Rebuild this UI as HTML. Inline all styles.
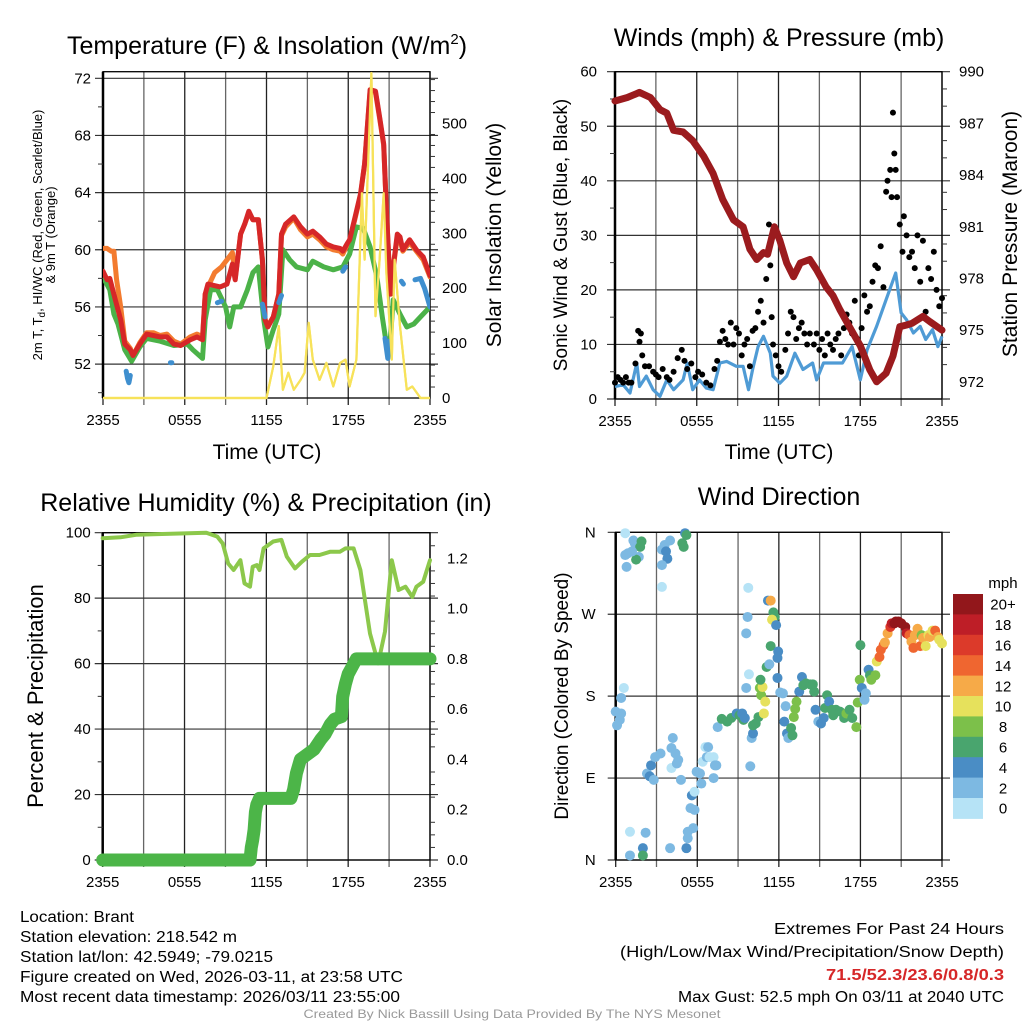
<!DOCTYPE html>
<html><head><meta charset="utf-8"><title>Mesonet Station Brant</title>
<style>
html,body{margin:0;padding:0;background:#fff;}
svg{display:block;font-family:"Liberation Sans",Arial,sans-serif;}
</style></head>
<body>
<svg id="fig" width="1024" height="1024" viewBox="0 0 1024 1024">
<rect x="0" y="0" width="1024" height="1024" fill="#fff"/>
<g id="p1"></g>
<g id="p2"></g>
<g id="p3"></g>
<g id="p4"></g>

<text x="267" y="54" font-size="25" text-anchor="middle">Temperature (F) &amp; Insolation (W/m<tspan font-size="15" dy="-10">2</tspan><tspan dy="10">)</tspan></text>
<text x="779" y="46" font-size="25" text-anchor="middle">Winds (mph) &amp; Pressure (mb)</text>
<text x="266" y="511" font-size="25" text-anchor="middle">Relative Humidity (%) &amp; Precipitation (in)</text>
<text x="779" y="505" font-size="25" text-anchor="middle">Wind Direction</text>

<text x="267" y="459" font-size="21" text-anchor="middle">Time (UTC)</text>
<text x="779" y="459" font-size="21" text-anchor="middle">Time (UTC)</text>

<text transform="translate(42,235) rotate(-90)" font-size="13" text-anchor="middle">2m T, T<tspan font-size="10" dy="3">d</tspan><tspan dy="-3">, HI/WC (Red, Green, Scarlet/Blue)</tspan></text>
<text transform="translate(55,235) rotate(-90)" font-size="13" text-anchor="middle">&amp; 9m T (Orange)</text>
<text transform="translate(501,235) rotate(-90)" font-size="21" text-anchor="middle">Solar Insolation (Yellow)</text>
<text transform="translate(567,235) rotate(-90)" font-size="19" text-anchor="middle">Sonic Wind &amp; Gust (Blue, Black)</text>
<text transform="translate(1017,234) rotate(-90)" font-size="21" text-anchor="middle">Station Pressure (Maroon)</text>
<text transform="translate(43,696) rotate(-90)" font-size="22" text-anchor="middle">Percent &amp; Precipitation</text>
<text transform="translate(568,696) rotate(-90)" font-size="19" text-anchor="middle">Direction (Colored By Speed)</text>

<text x="1003" y="588" font-size="15" text-anchor="middle">mph</text>
<g id="cbar"></g>

<g font-size="15.5">
<text x="20" y="922" textLength="114" lengthAdjust="spacingAndGlyphs">Location: Brant</text>
<text x="20" y="942" textLength="217" lengthAdjust="spacingAndGlyphs">Station elevation: 218.542 m</text>
<text x="20" y="962" textLength="253" lengthAdjust="spacingAndGlyphs">Station lat/lon: 42.5949; -79.0215</text>
<text x="20" y="982" textLength="383" lengthAdjust="spacingAndGlyphs">Figure created on Wed, 2026-03-11, at 23:58 UTC</text>
<text x="20" y="1002" textLength="380" lengthAdjust="spacingAndGlyphs">Most recent data timestamp: 2026/03/11 23:55:00</text>
</g>
<g font-size="15.5" text-anchor="end">
<text x="1004" y="934" textLength="230" lengthAdjust="spacingAndGlyphs">Extremes For Past 24 Hours</text>
<text x="1004" y="957" textLength="384" lengthAdjust="spacingAndGlyphs">(High/Low/Max Wind/Precipitation/Snow Depth)</text>
<text x="1004" y="980" fill="#d62728" font-weight="bold" textLength="178" lengthAdjust="spacingAndGlyphs">71.5/52.3/23.6/0.8/0.3</text>
<text x="1004" y="1002" textLength="326" lengthAdjust="spacingAndGlyphs">Max Gust: 52.5 mph On 03/11 at 2040 UTC</text>
</g>
<text x="512" y="1018" font-size="12" fill="#999" text-anchor="middle" textLength="417" lengthAdjust="spacingAndGlyphs">Created By Nick Bassill Using Data Provided By The NYS Mesonet</text>
</svg>

<script>
// ---------- data (hours since 2355 previous day) ----------
const timeLabels = ["2355","0555","1155","1755","2355"];
const redH = [0,0.3,0.5,0.9,1.3,1.6,2.0,2.2,2.7,3.2,3.7,4.2,4.7,5.2,5.7,6.4,6.9,7.3,7.5,7.7,8.6,9.1,9.5,9.7,10.1,10.4,10.7,11.0,11.4,11.7,11.9,12.1,12.5,12.9,13.1,13.4,14.0,14.5,15.0,15.4,15.9,16.4,16.9,17.4,17.6,17.9,18.1,18.5,18.9,19.2,19.6,20.0,20.3,20.6,20.8,21.1,21.3,21.6,21.8,22.0,22.5,23.0,23.5,24.0];
const redT = [58.5,57.9,58.0,56.5,55.1,53.4,53.0,52.6,53.4,54.1,54.0,53.9,53.9,53.4,53.3,53.7,53.9,53.7,56.9,57.6,57.4,57.6,59.0,57.9,61.1,61.8,62.7,62.1,62.1,59.3,55.1,54.6,55.3,56.9,61.1,61.8,62.3,61.6,61.1,61.3,60.9,60.4,60.2,60.1,59.9,60.4,60.7,62.3,63.9,66.0,71.2,71.1,69.3,67.4,62.8,56.9,58.8,61.1,60.9,60.0,60.7,60.0,59.5,58.2];
const orangeH = [0,0.3,0.6,0.8,1.0,1.3,1.6,2.0,2.2,2.7,3.2,3.7,4.2,4.7,5.2,5.7,6.4,6.9,7.3,7.5,7.8,8.2,8.7,9.1,9.5,9.7,10.1,10.4,10.7,11.0,11.4,11.7,11.9,12.1,12.5,12.9,13.1,13.4,14.0,14.5,15.0,15.4,15.9,16.4,16.9,17.4,17.6,17.9,18.1,18.5,18.9,19.2,19.6,20.0,20.3,20.6,20.8,21.1,21.3,21.6,21.8,22.0,22.5,23.0,23.5,24.0];
const orangeT = [60.1,60.1,59.9,59.9,57.9,56.0,53.6,53.1,52.6,53.5,54.2,54.2,54.0,54.1,53.6,53.4,53.9,54.1,53.9,56.9,57.6,58.4,58.8,59.3,59.8,58.0,61.1,61.8,62.6,62.1,62.1,59.3,55.1,54.7,55.3,56.9,61.0,61.6,62.2,61.4,60.9,61.1,60.7,60.2,60.0,59.9,59.7,60.3,60.6,62.2,63.8,66.0,71.1,71.0,69.2,67.3,62.8,56.9,58.7,60.9,60.7,59.9,60.5,59.9,59.3,58.1];
const greenH = [0,0.5,0.8,1.1,1.6,2.1,2.7,3.2,4.2,5.2,6.2,6.6,7.3,7.5,7.9,8.4,9.0,9.3,9.6,10.1,10.6,11.0,11.4,11.8,12.1,12.5,12.9,13.2,13.7,14.2,15.0,15.4,16.2,16.9,17.6,18.1,18.6,19.1,19.6,20.1,20.5,20.8,21.1,21.3,21.8,22.3,22.8,23.3,24.0];
const greenT = [58.1,57.2,55.5,54.8,53.0,52.2,53.2,53.8,53.6,53.3,53.4,53.0,52.4,55.1,57.2,57.2,56.0,54.6,56.0,56.0,57.2,58.4,58.8,55.1,53.2,54.4,55.5,60.0,59.3,58.8,58.6,59.2,58.8,58.6,58.8,59.7,61.6,61.5,60.2,58.1,55.3,53.4,53.9,56.5,55.5,54.6,54.8,55.3,56.0];
const blueH = [1.7,1.8,1.9,2.0,null,4.95,5.05,null,8.4,8.7,null,11.7,11.9,null,12.9,13.1,null,17.6,17.8,null,20.7,20.9,21.0,null,21.9,22.05,null,22.9,23.3,23.6,24.0];
const blueT = [51.5,51.0,50.7,51.2,null,52.1,52.1,null,56.3,56.4,null,56.2,55.3,null,56.3,56.8,null,58.5,58.8,null,53.8,52.4,53.6,null,57.8,57.6,null,57.9,58.0,57.3,56.0];
const solarH = [0,12.0,12.5,12.9,13.2,13.6,14.0,14.5,14.8,15.1,15.4,15.9,16.4,16.9,17.4,17.8,18.1,18.6,19.0,19.2,19.7,20.0,20.3,20.6,20.8,21.2,21.4,21.8,22.3,22.7,23.3,24];
const solarV = [0,0,58,131,15,46,15,33,46,137,70,33,64,21,64,70,21,70,373,252,592,149,252,373,228,70,252,131,15,21,0,0];
const tempTicks = [52,56,60,64,68,72];
const solarTicks = [0,100,200,300,400,500];

const presH = [0,0.9,1.8,2.6,3.3,3.8,4.3,5.0,5.7,6.5,7.2,7.9,8.7,9.4,9.9,10.4,10.9,11.2,11.7,12.1,12.6,13.1,13.6,14.3,14.8,15.5,16.0,16.5,17.2,18.0,18.7,19.2,19.9,20.4,20.9,21.4,21.8,22.6,23.1,24];
const presV = [988.3,988.5,988.8,988.5,987.8,987.6,986.6,986.5,986.0,985.1,984.1,982.6,981.4,981.0,979.7,979.1,979.5,979.4,981.0,980.2,978.9,978.1,978.9,979.1,978.5,977.5,977.0,976.2,975.2,974.1,972.7,972.0,972.5,973.5,975.2,975.3,975.4,975.8,975.5,975.0];
const windH = [0,0.6,1.1,1.6,1.8,2.3,2.8,3.3,3.8,4.3,5.0,5.3,5.7,6.2,6.7,7.2,7.7,8.2,8.9,9.4,9.8,10.1,10.5,10.9,11.4,11.6,12.1,12.6,13.2,13.8,14.5,14.8,15.3,16.0,16.7,17.4,18.0,18.5,19.2,19.9,20.6,21.0,21.4,21.9,22.4,22.8,23.3,23.7,24];
const windV = [2.3,2.6,1.1,6.6,2.3,4.2,1.7,0.5,3.5,1.7,3.5,6.6,1.7,3.5,2.0,1.7,6.6,6.9,6.0,6.0,1.7,5.4,9.6,11.5,8.4,4.2,2.9,4.2,8.4,5.4,6.6,3.5,6.6,6.6,6.6,9.6,3.5,9.0,13.3,18.2,23.1,15.8,14.5,12.1,13.3,10.9,12.7,9.6,11.5];
const gustH = [0.0,0.2,0.4,0.6,0.8,1.0,1.2,1.5,1.7,1.8,1.9,2.0,2.2,2.5,2.8,3.0,3.2,3.5,3.8,4.0,4.3,4.6,4.9,5.1,5.3,5.6,5.9,6.1,6.4,6.7,7.0,7.3,7.5,7.7,7.9,8.1,8.3,8.5,8.7,8.9,9.1,9.3,9.5,9.7,9.9,10.1,10.3,10.5,10.7,10.9,11.1,11.3,11.4,11.5,11.6,11.8,12.0,12.2,12.5,12.7,12.9,13.1,13.3,13.5,13.7,13.9,14.1,14.3,14.6,14.8,15.0,15.2,15.4,15.6,15.8,16.0,16.2,16.4,16.6,16.8,17.0,17.2,17.4,17.6,17.8,17.9,18.1,18.3,18.5,18.7,18.9,19.1,19.3,19.5,19.7,19.9,20.0,20.2,20.3,20.4,20.5,20.6,20.7,20.9,21.1,21.2,21.4,21.6,21.8,22.0,22.2,22.4,22.6,22.8,23.0,23.2,23.4,23.6,23.8,24.0];
const gustV = [3,4,3.5,3,4,3,3,6.5,12.5,10.5,12,8,6,6,5,4.5,4,5.5,4,3.5,5,7.5,9,7,5.5,6.5,4,5,4.5,3,2.5,5.5,7,10.5,12.5,11,10,14,10,13,12,8,10,11,6,12.5,13,16,18,14,22,32,24.5,15,10,8,6,5,9,12,16,15,11,13,14,12,10,12,10,12,9,11,8,12,10,9,11,12,8,13,15.5,14,12,18,11,8,13,19,16,17,21.5,24.5,24,28,20.5,38,40,42,37,52.5,45,42,37,32,27,33.5,30,26,27,24,30,21.5,29,16,24,22,27,20,17,18.5];
const windTicks = [0,10,20,30,40,50,60];
const presTicks = [972,975,978,981,984,987,990];

const rhH = [0,1.3,2.5,3.7,7.6,8.4,8.8,9.2,9.6,10.1,10.4,10.8,11.0,11.3,11.5,11.8,12.5,13.1,13.5,14.1,14.6,15.2,15.9,16.7,17.4,17.8,18.4,18.9,19.6,20.2,20.7,21.2,21.7,22.2,22.7,23.0,23.5,24];
const rhV = [98.3,98.6,99.4,99.5,100,98.8,96.7,90.6,88.6,91.6,84.5,83.5,89.6,90.1,88.6,95.2,97.3,97.8,92.7,89.1,91.1,93.2,93.2,94.2,94.2,95.2,95.2,88.6,69.2,60.1,69.8,91.6,82.5,83.5,80.4,83.5,85.0,91.6];
const precipH = [0,10.8,10.9,11.0,11.1,11.2,11.3,11.5,12.0,13.8,14.0,14.2,14.5,15.0,15.5,16.0,16.3,16.7,17.0,17.5,17.6,17.8,18.0,18.3,18.6,24];
const precipV = [0,0,0.05,0.08,0.12,0.19,0.22,0.245,0.245,0.245,0.28,0.345,0.40,0.42,0.44,0.48,0.50,0.54,0.56,0.57,0.65,0.70,0.74,0.77,0.80,0.80];
const rhTicks = [0,20,40,60,80,100];
const precipTicks = ["0.0","0.2","0.4","0.6","0.8","1.0","1.2"];

const dirH = [0.7,1.3,1.4,1.9,1.8,1.7,1.5,0.9,0.7,0.8,1.2,0,0.1,0.3,0.4,0.4,0.6,1.05,1.05,2.2,2.0,2.0,2.3,2.6,2.5,2.8,2.9,3.3,3.4,3.6,4.0,3.7,3.8,3.4,3.4,4.0,4.1,4.2,4.1,4.4,4.6,4.5,4.8,4.9,5.0,5.1,5.2,5.2,5.3,5.3,5.7,5.6,5.5,5.8,5.8,5.95,6.3,6.2,6.4,6.6,6.8,6.7,6.9,7.2,7.3,7.2,7.4,7.5,7.8,8.2,8.5,8.9,9.1,9.4,9.3,9.5,9.6,9.7,9.6,9.75,9.8,10.0,10.1,9.9,10.1,10.3,10.5,10.6,10.7,10.8,11.0,10.9,10.65,11.1,11.3,11.4,11.2,11.4,11.6,11.7,11.5,11.8,11.95,11.9,11.9,12.1,12.3,12.5,12.4,12.6,12.7,12.9,13.0,13.1,13.2,13.3,13.5,13.7,13.8,14.0,14.3,14.5,14.6,14.7,14.9,15.1,15.3,15.4,15.55,15.7,15.9,16.0,16.2,16.5,16.8,16.97,17.2,17.4,17.7,17.8,17.95,18.0,18.1,18.3,18.4,18.6,18.7,18.8,19.1,19.2,19.4,19.5,19.7,19.8,20.0,20.2,20.3,20.5,20.6,20.8,21.0,21.3,21.4,21.6,21.75,21.9,22.0,22.2,22.4,22.5,22.6,22.8,23.0,23.1,23.3,23.5,23.7,23.8,24.0];
const dirDeg = [359,351,348,350,344,333,330,337,335,322,339,163,148,154,161,178,189,31,5,30,13,5,95,104,92,88,113,117,341,346,351,339,331,324,300,13,101,134,123,117,110,106,88,348,344,359,357,13,24,31,35,71,57,55,75,97,84,95,108,124,124,113,113,113,104,90,104,146,155,152,156,161,159,154,161,156,189,267,249,299,204,134,139,103,148,150,157,189,181,190,174,161,198,212,215,235,285,285,272,267,264,258,229,222,200,184,183,169,152,139,134,145,137,157,166,174,185,201,192,194,193,193,185,165,152,150,156,167,181,174,165,159,165,163,156,161,165,156,146,173,198,236,189,176,183,209,203,198,203,218,223,231,236,239,249,256,260,260,262,262,260,256,249,247,240,233,247,254,235,247,244,235,247,245,252,252,245,242,238];
const dirSpd = [1,3,3,7,6,3,6,3,3,3,3,3,3,3,3,3,1,1,3,3,5,7,3,5,5,3,3,3,3,3,3,5,5,3,1,3,1,3,3,3,3,3,3,6,6,5,6,5,3,3,3,5,3,3,1,3,3,3,1,1,3,3,1,1,3,3,3,3,6,6,6,4,6,6,4,4,3,3,3,1,1,3,5,3,6,6,6,8,8,10,10,10,6,6,3,6,4,13,6,6,10,4,4,4,4,3,3,3,4,4,3,6,6,8,8,8,4,4,6,6,6,6,6,4,3,4,4,6,6,4,6,6,6,6,6,8,6,6,8,8,8,6,4,3,3,4,6,8,8,10,14,14,14,12,12,17,19,20,20,20,20,20,18,15,13,15,12,13,15,8,13,11,10,12,11,15,12,10,10,10];
const dirTicks = ["N","E","S","W","N"];
const speedLabels = ["0","2","4","6","8","10","12","14","16","18","20+"];
const speedColors = ["#b6e3f6","#7db9e2","#4a8dc5","#49a56e","#7cc04a","#e6e15c","#f6aa48","#ef6630","#dc3a2a","#be1e27","#92171b"];

// ---------- helpers ----------
const NS = "http://www.w3.org/2000/svg";
function mk(tag, parent){ const e = document.createElementNS(NS, tag); parent.appendChild(e); return e; }
function set(e, o){ for (const k in o) e.setAttribute(k, o[k]); return e; }
function pathFrom(hs, vs, sx, sy){
  let d = "", pen = false;
  for (let i=0;i<hs.length;i++){
    if (hs[i]===null || vs[i]===null){ pen=false; continue; }
    d += (pen?"L":"M") + sx(hs[i]).toFixed(1) + "," + sy(vs[i]).toFixed(1);
    pen = true;
  }
  return d;
}
function frame(g, x0, x1, y0, y1, sx, hGridYs){
  for (let h=0; h<=24; h+=3){
    const l = mk("line", g);
    set(l, {x1:sx(h), x2:sx(h), y1:y0, y2:y1+7, stroke: (h%6===0)?"#222":"#666", "stroke-width":1.3});
    
    
  }
  for (let i=0;i<hGridYs.length;i++){
    const l = mk("line", g);
    set(l, {x1:x0-8, x2:x1+8, y1:hGridYs[i], y2:hGridYs[i], stroke:"#333", "stroke-width":1.2});
    
    
  }
  for (let i=0;i<timeLabels.length;i++){
    const t = mk("text", g);
    set(t, {x:sx(i*6), y:y1+27, "font-size":15, "text-anchor":"middle"});
    t.textContent = timeLabels[i];
    
    
  }
  const b = mk("rect", g);
  set(b, {x:x0, y:y0, width:x1-x0, height:y1-y0, fill:"none", stroke:"#000", "stroke-width":1.3});
  
  
  const lsp = mk("line", g);
  set(lsp, {x1:x0, x2:x0, y1:y0, y2:y1, stroke:"#000", "stroke-width":2.5});
  
  
}
function minorTicks(g, x, ys, dir){
  for (let i=0;i<ys.length;i++){
    const l = mk("line", g);
    set(l, {x1:x, x2:x+dir*5, y1:ys[i], y2:ys[i], stroke:"#333", "stroke-width":1});
    
    
  }
}
function label(g, x, y, txt, anchor, name){
  const t = mk("text", g);
  set(t, {x:x, y:y+5, "font-size":15, "text-anchor":anchor});
  t.textContent = txt;
  
  
}

// ---------- panel 1 ----------
(function(){
  const g = document.getElementById("p1");
  const x0=103, x1=430, y0=71.7, y1=398;
  const sx = h => x0 + h*(x1-x0)/24;
  const sy = t => 78.3 + (72-t)*14.29;
  const ss = v => y1 - v*0.549;
  frame(g, x0, x1, y0, y1, sx, tempTicks.map(sy));
  const mn=[]; for (let t=50;t<=72;t+=2) if (t%4) mn.push(sy(t));
  minorTicks(g, x0, mn, -1);
  const mr=[]; for (let v=20; v<=580; v+=20) if (v%100) mr.push(ss(v));
  minorTicks(g, x1, mr, 1);
  tempTicks.forEach(t => label(g, x0-12, sy(t), String(t), "end", "left-tick-label"));
  solarTicks.forEach(v => label(g, x1+12, ss(v), String(v), "start", "right-tick-label"));
  const cl = mk("clipPath", g); cl.id="c1";
  set(mk("rect", cl), {x:x0, y:y0, width:x1-x0, height:y1-y0+3});
  const series = [
    ["solar-line", solarH, solarV, ss, "#f7e25a", 2.2],
    ["temp-9m-line", orangeH, orangeT, sy, "#f37b2f", 5],
    ["dewpoint-line", greenH, greenT, sy, "#4bb248", 5],
    ["temp-2m-line", redH, redT, sy, "#d62728", 5],
    ["heat-index-line", blueH, blueT, sy, "#3f8fcf", 5]
  ];
  series.forEach(s => {
    const p = mk("path", g);
    set(p, {d:pathFrom(s[1], s[2], sx, s[3]), fill:"none", stroke:s[4], "stroke-width":s[5], "stroke-linejoin":"round", "stroke-linecap":"round", "clip-path":"url(#c1)"});
    
    
  });
  const p2 = mk("path", g);
  set(p2, {d:pathFrom(solarH, solarV, sx, ss), fill:"none", stroke:"#f7e25a", "stroke-width":2.2, "stroke-linejoin":"round", "clip-path":"url(#c1)"});
  
  
})();

// ---------- panel 2 ----------
(function(){
  const g = document.getElementById("p2");
  const x0=615, x1=942, y0=71.7, y1=399;
  const sx = h => x0 + h*(x1-x0)/24;
  const sw = w => y1 - w*5.455;
  const sp = p => 71.7 + (990-p)*17.23;
  frame(g, x0, x1, y0, y1, sx, windTicks.map(sw));
  const mn=[]; for (let w=5; w<60; w+=10) mn.push(sw(w));
  minorTicks(g, x0, mn, -1);
  const mr=[]; for (let p=971; p<990; p++) if ((p-972)%3) mr.push(sp(p));
  minorTicks(g, x1, mr, 1);
  windTicks.forEach(w => label(g, x0-18, sw(w), String(w), "end", "left-tick-label"));
  presTicks.forEach(p => label(g, x1+17, sp(p), String(p), "start", "right-tick-label"));
  const pw = mk("path", g);
  set(pw, {d:pathFrom(windH, windV, sx, sw), fill:"none", stroke:"#4f9bd5", "stroke-width":3.2, "stroke-linejoin":"round"});
  
  
  for (let i=0;i<gustH.length;i++){
    const c = mk("circle", g);
    set(c, {cx:sx(gustH[i]), cy:sw(gustV[i]), r:3, fill:"#000"});
    
    
  }
  const pp = mk("path", g);
  set(pp, {d:pathFrom(presH, presV, sx, sp), fill:"none", stroke:"#9b1b1e", "stroke-width":7, "stroke-linejoin":"round", "stroke-linecap":"round"});
  
  
})();

// ---------- panel 3 ----------
(function(){
  const g = document.getElementById("p3");
  const x0=102.7, x1=430, y0=532.7, y1=860;
  const sx = h => x0 + h*(x1-x0)/24;
  const sr = r => y1 - r*3.273;
  const si = v => y1 - v*251.4;
  frame(g, x0, x1, y0, y1, sx, rhTicks.map(sr));
  const mn=[]; for (let r=10; r<100; r+=20) mn.push(sr(r));
  minorTicks(g, x0, mn, -1);
  const mr=[]; for (let v=0.05; v<1.3; v+=0.05) if (Math.abs(v*5-Math.round(v*5))>0.01) mr.push(si(v));
  minorTicks(g, x1, mr, 1);
  rhTicks.forEach(r => label(g, x0-12, sr(r), String(r), "end", "left-tick-label"));
  precipTicks.forEach(v => label(g, x1+17, si(parseFloat(v)), v, "start", "right-tick-label"));
  const pr = mk("path", g);
  set(pr, {d:pathFrom(rhH, rhV, sx, sr), fill:"none", stroke:"#8cc84b", "stroke-width":4, "stroke-linejoin":"round", "stroke-linecap":"round"});
  
  
  const pc = mk("path", g);
  set(pc, {d:pathFrom(precipH, precipV, sx, si), fill:"none", stroke:"#4cb548", "stroke-width":13, "stroke-linejoin":"round", "stroke-linecap":"round"});
  
  
})();

// ---------- panel 4 ----------
(function(){
  const g = document.getElementById("p4");
  const x0=615.7, x1=942, y0=532.3, y1=860;
  const sx = h => x0 + h*(x1-x0)/24;
  const sd = d => y1 - d*(y1-y0)/360;
  const gy = dirTicks.map((t,i) => sd(i*90));
  frame(g, x0, x1, y0, y1, sx, gy);
  dirTicks.forEach((t,i) => label(g, x0-20, sd(i*90), t, "end", "direction-tick-label"));
  for (let i=0;i<dirH.length;i++){
    const c = mk("circle", g);
    const bin = Math.min(10, Math.floor(dirSpd[i]/2));
    set(c, {cx:sx(dirH[i]), cy:sd(dirDeg[i]), r:5, fill:speedColors[bin]});
    
    
  }
  const cb = document.getElementById("cbar");
  const bx=953, bw=30, top=594, bh=20.4;
  for (let i=0;i<speedLabels.length;i++){
    const k = speedLabels.length-1-i;
    const r = mk("rect", cb);
    set(r, {x:bx, y:top+i*bh, width:bw, height:bh+0.5, fill:speedColors[k]});
    
    
    const t = mk("text", cb);
    set(t, {x:1003, y:top+i*bh+bh/2+5.5, "font-size":15, "text-anchor":"middle"});
    t.textContent = speedLabels[k];
    
    
  }
})();
</script>
</body></html>
